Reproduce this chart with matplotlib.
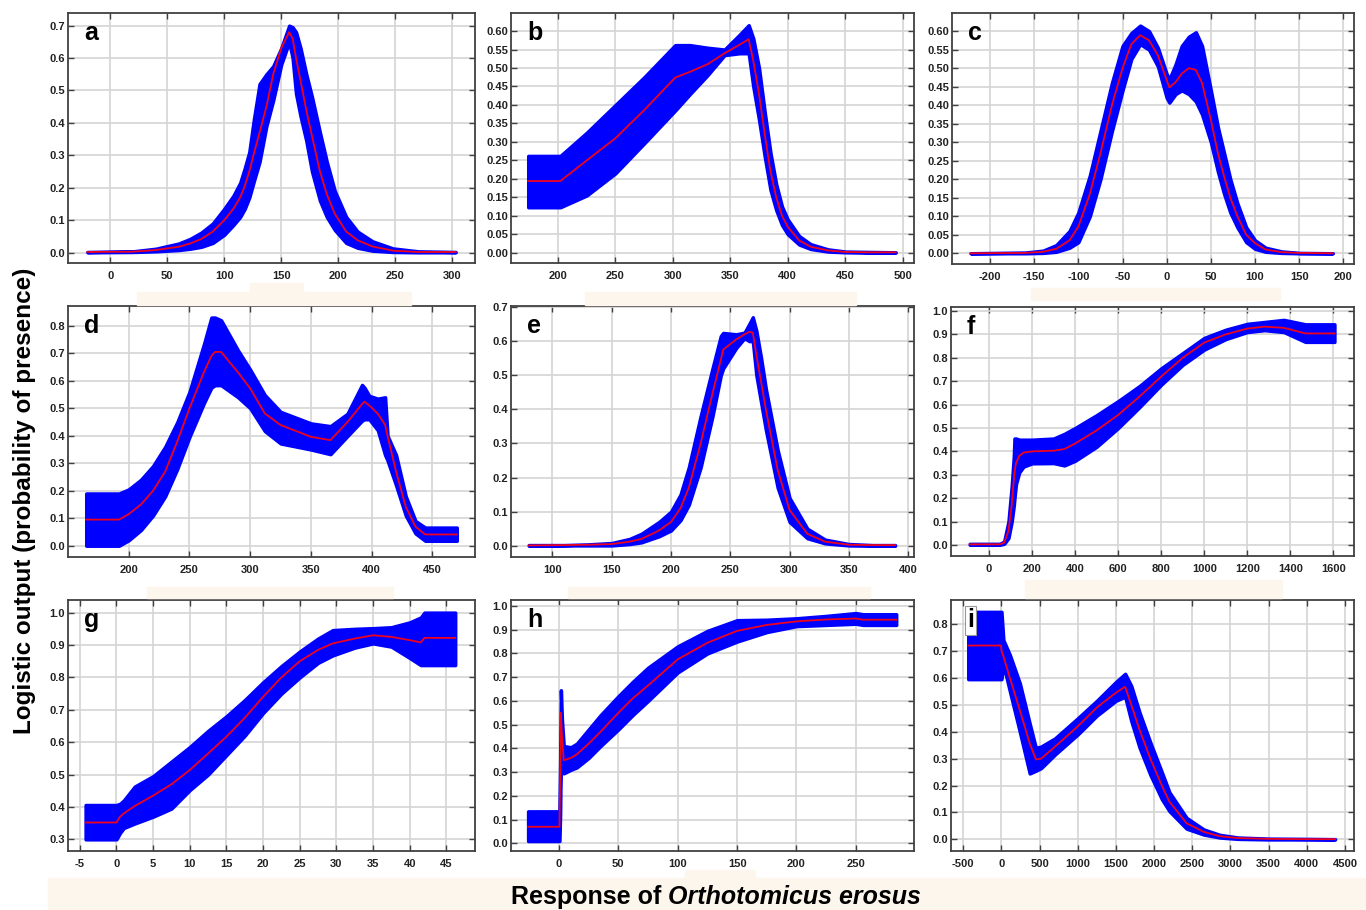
"""Response curves (logistic output) for Orthotomicus erosus, panels a-i."""

import matplotlib
matplotlib.use("Agg")
import matplotlib.pyplot as plt
from matplotlib.patches import Rectangle
from matplotlib.ticker import FormatStrFormatter

plt.rcParams['font.family'] = ['Liberation Sans', 'DejaVu Sans']
plt.rcParams['axes.unicode_minus'] = False

W, H = 1366, 910

# ---- data ----
a_x = [-20, 20, 40, 60, 70, 80, 90, 100, 108, 114, 118, 122, 126, 131, 137, 143, 150, 157, 160, 163, 167, 172, 177, 184, 190, 197, 207, 217, 230, 248, 270, 303]
a_mean = [.002, .003, .008, .018, .028, .042, .065, .10, .135, .17, .205, .25, .305, .37, .45, .55, .63, .68, .66, .60, .53, .44, .36, .25, .18, .12, .065, .038, .019, .006, .002, .002]
a_hi = [.002, .004, .012, .028, .042, .062, .09, .135, .175, .215, .26, .31, .41, .52, .55, .575, .63, .70, .695, .68, .63, .55, .48, .37, .28, .19, .11, .065, .035, .013, .004, .002]
a_lo = [.001, .002, .004, .008, .012, .018, .03, .055, .085, .11, .135, .17, .22, .28, .39, .47, .58, .65, .60, .49, .42, .345, .25, .16, .11, .07, .03, .015, .006, .002, .001, .001]

b_x = [174, 202, 225, 250, 275, 302, 315, 330, 345, 358, 366, 370, 375, 380, 385, 390, 395, 400, 410, 420, 435, 450, 470, 494]
b_mean = [0.194, 0.194, 0.25, 0.31, 0.386, 0.474, 0.49, 0.51, 0.54, 0.563, 0.578, 0.52, 0.43, 0.32, 0.22, 0.15, 0.10, 0.07, 0.033, 0.016, 0.006, 0.002, 0.001, 0.001]
b_hi = [0.262, 0.262, 0.325, 0.40, 0.475, 0.562, 0.562, 0.555, 0.55, 0.59, 0.616, 0.58, 0.50, 0.38, 0.27, 0.185, 0.125, 0.09, 0.045, 0.023, 0.009, 0.003, 0.002, 0.001]
b_lo = [0.123, 0.123, 0.155, 0.215, 0.296, 0.385, 0.43, 0.48, 0.535, 0.54, 0.54, 0.45, 0.36, 0.26, 0.17, 0.115, 0.075, 0.05, 0.022, 0.01, 0.003, 0.001, 0.0, 0.0]

c_x = [-222, -160, -140, -125, -110, -100, -87, -75, -62, -50, -40, -30, -20, -10, 0, 3, 10, 17, 25, 33, 40, 50, 58, 65, 72, 80, 90, 100, 112, 130, 150, 188]
c_mean = [0, 0.001, 0.004, 0.012, 0.035, 0.072, 0.16, 0.27, 0.40, 0.50, 0.565, 0.589, 0.575, 0.535, 0.468, 0.448, 0.462, 0.485, 0.50, 0.495, 0.46, 0.36, 0.27, 0.207, 0.15, 0.10, 0.05, 0.027, 0.01, 0.003, 0.001, 0]
c_hi = [0, 0.002, 0.007, 0.022, 0.06, 0.11, 0.21, 0.33, 0.46, 0.56, 0.595, 0.615, 0.60, 0.555, 0.484, 0.47, 0.51, 0.56, 0.585, 0.597, 0.56, 0.44, 0.34, 0.27, 0.20, 0.135, 0.07, 0.035, 0.015, 0.005, 0.001, 0]
c_lo = [0, 0.0, 0.001, 0.004, 0.015, 0.03, 0.10, 0.20, 0.33, 0.44, 0.525, 0.565, 0.55, 0.505, 0.42, 0.407, 0.43, 0.44, 0.43, 0.41, 0.375, 0.30, 0.22, 0.16, 0.11, 0.07, 0.03, 0.012, 0.004, 0.001, 0, 0]

d_x = [165, 192, 200, 210, 220, 230, 240, 250, 262, 268, 271, 276, 290, 300, 312, 325, 350, 366, 380, 392, 394, 398, 405, 411, 413, 420, 428, 436, 444, 470]
d_mean = [0.095, 0.095, 0.115, 0.15, 0.20, 0.27, 0.38, 0.50, 0.633, 0.69, 0.705, 0.705, 0.63, 0.572, 0.481, 0.439, 0.396, 0.384, 0.45, 0.515, 0.524, 0.51, 0.48, 0.44, 0.40, 0.27, 0.142, 0.069, 0.041, 0.041]
d_hi = [0.19, 0.19, 0.205, 0.24, 0.29, 0.36, 0.45, 0.56, 0.735, 0.83, 0.83, 0.82, 0.71, 0.64, 0.548, 0.487, 0.445, 0.435, 0.48, 0.585, 0.575, 0.545, 0.535, 0.54, 0.40, 0.33, 0.18, 0.09, 0.066, 0.066]
d_lo = [0.0, 0.0, 0.02, 0.057, 0.11, 0.18, 0.28, 0.396, 0.52, 0.575, 0.584, 0.584, 0.54, 0.50, 0.417, 0.372, 0.35, 0.333, 0.399, 0.455, 0.46, 0.46, 0.42, 0.33, 0.31, 0.22, 0.11, 0.045, 0.018, 0.018]

e_x = [80, 110, 130, 150, 165, 175, 190, 200, 208, 215, 225, 235, 242, 244, 255, 262, 266, 269, 272, 276, 280, 290, 300, 315, 330, 350, 370, 389]
e_mean = [0.001, 0.002, 0.003, 0.005, 0.012, 0.02, 0.045, 0.07, 0.11, 0.17, 0.30, 0.447, 0.545, 0.575, 0.605, 0.62, 0.627, 0.625, 0.56, 0.48, 0.40, 0.222, 0.105, 0.035, 0.012, 0.003, 0.002, 0.002]
e_hi = [0.002, 0.002, 0.004, 0.008, 0.02, 0.035, 0.07, 0.10, 0.15, 0.23, 0.38, 0.52, 0.615, 0.624, 0.62, 0.625, 0.65, 0.67, 0.63, 0.55, 0.46, 0.28, 0.14, 0.05, 0.018, 0.005, 0.002, 0.002]
e_lo = [0.0, 0.001, 0.001, 0.001, 0.005, 0.01, 0.028, 0.045, 0.075, 0.12, 0.23, 0.38, 0.50, 0.52, 0.58, 0.609, 0.60, 0.60, 0.50, 0.42, 0.34, 0.17, 0.07, 0.022, 0.007, 0.001, 0.0, 0.0]

f_x = [-90, 50, 70, 90, 105, 115, 118, 125, 140, 160, 200, 300, 350, 400, 500, 600, 700, 800, 900, 1000, 1100, 1200, 1280, 1370, 1470, 1605]
f_mean = [0.003, 0.003, 0.01, 0.06, 0.17, 0.28, 0.31, 0.35, 0.38, 0.395, 0.40, 0.403, 0.41, 0.434, 0.49, 0.556, 0.635, 0.72, 0.80, 0.865, 0.90, 0.925, 0.933, 0.928, 0.904, 0.904]
f_hi = [0.005, 0.005, 0.015, 0.10, 0.25, 0.38, 0.455, 0.455, 0.45, 0.45, 0.45, 0.455, 0.475, 0.50, 0.555, 0.615, 0.68, 0.755, 0.82, 0.885, 0.92, 0.945, 0.953, 0.962, 0.943, 0.943]
f_lo = [0.001, 0.001, 0.005, 0.03, 0.10, 0.17, 0.20, 0.26, 0.31, 0.335, 0.349, 0.35, 0.34, 0.36, 0.42, 0.50, 0.59, 0.685, 0.77, 0.835, 0.88, 0.91, 0.918, 0.91, 0.868, 0.868]

g_x = [-4.2, 0, 0.5, 1, 2.5, 5, 7.5, 10, 12.5, 15, 17.5, 20, 22.5, 25, 27.5, 29.5, 32.5, 35, 37.5, 40, 41.5, 42, 46.2]
g_mean = [0.352, 0.352, 0.37, 0.38, 0.403, 0.435, 0.47, 0.514, 0.565, 0.617, 0.675, 0.74, 0.80, 0.85, 0.885, 0.905, 0.92, 0.93, 0.925, 0.915, 0.908, 0.922, 0.922]
g_hi = [0.406, 0.406, 0.41, 0.42, 0.463, 0.495, 0.54, 0.585, 0.635, 0.68, 0.73, 0.785, 0.835, 0.88, 0.92, 0.946, 0.95, 0.952, 0.955, 0.97, 0.985, 1.0, 1.0]
g_lo = [0.30, 0.30, 0.32, 0.335, 0.349, 0.37, 0.395, 0.452, 0.50, 0.56, 0.62, 0.69, 0.75, 0.80, 0.845, 0.868, 0.892, 0.905, 0.895, 0.86, 0.838, 0.838, 0.838]

h_x = [-26, 0, 0.4, 1.0, 1.6, 2.5, 4, 10, 15, 25, 35, 50, 62, 75, 100, 125, 150, 175, 200, 225, 250, 256, 284]
h_mean = [0.07, 0.07, 0.07, 0.30, 0.55, 0.45, 0.35, 0.36, 0.375, 0.42, 0.47, 0.55, 0.61, 0.665, 0.775, 0.845, 0.895, 0.92, 0.935, 0.943, 0.947, 0.942, 0.942]
h_hi = [0.135, 0.135, 0.135, 0.34, 0.645, 0.52, 0.41, 0.405, 0.42, 0.48, 0.54, 0.62, 0.68, 0.74, 0.83, 0.895, 0.94, 0.942, 0.948, 0.958, 0.97, 0.965, 0.965]
h_lo = [0.01, 0.01, 0.01, 0.13, 0.42, 0.34, 0.295, 0.31, 0.32, 0.36, 0.41, 0.48, 0.54, 0.60, 0.72, 0.80, 0.85, 0.89, 0.915, 0.92, 0.925, 0.92, 0.92]

i_x = [-435, -5, 0, 25, 110, 240, 370, 450, 520, 700, 1000, 1250, 1500, 1620, 1700, 1810, 1950, 2100, 2200, 2425, 2650, 2860, 3100, 3500, 4000, 4370]
i_mean = [0.72, 0.72, 0.70, 0.68, 0.60, 0.48, 0.357, 0.297, 0.30, 0.344, 0.42, 0.49, 0.545, 0.567, 0.50, 0.406, 0.30, 0.20, 0.14, 0.06, 0.028, 0.012, 0.005, 0.002, 0.001, 0.001]
i_hi = [0.845, 0.845, 0.845, 0.74, 0.685, 0.58, 0.43, 0.34, 0.345, 0.375, 0.45, 0.515, 0.585, 0.615, 0.57, 0.47, 0.36, 0.25, 0.175, 0.08, 0.037, 0.017, 0.007, 0.003, 0.002, 0.001]
i_lo = [0.595, 0.595, 0.595, 0.65, 0.55, 0.40, 0.245, 0.255, 0.265, 0.315, 0.39, 0.46, 0.515, 0.53, 0.44, 0.34, 0.24, 0.15, 0.105, 0.04, 0.018, 0.007, 0.002, 0.0, 0.0, 0.0]

# panel: (label, x, mean, lo, hi, xlim, ylim, xticks, yticks, yfmt, box in px: left, top, right, bottom)
panels = [
    ('a', a_x, a_mean, a_lo, a_hi, (-37, 320), (-0.032, 0.739), range(0, 301, 50), [i / 10 for i in range(8)], '%.1f', (68, 13, 475, 263)),
    ('b', b_x, b_mean, b_lo, b_hi, (159, 510), (-0.028, 0.649), range(200, 501, 50), [i / 20 for i in range(13)], '%.2f', (511, 13, 914, 263)),
    ('c', c_x, c_mean, c_lo, c_hi, (-243, 212), (-0.029, 0.649), range(-200, 201, 50), [i / 20 for i in range(13)], '%.2f', (952, 13, 1354, 264)),
    ('d', d_x, d_mean, d_lo, d_hi, (150, 485), (-0.041, 0.872), range(200, 451, 50), [i / 10 for i in range(9)], '%.1f', (68, 306, 475, 557)),
    ('e', e_x, e_mean, e_lo, e_hi, (65, 405), (-0.033, 0.703), range(100, 401, 50), [i / 10 for i in range(8)], '%.1f', (511, 306, 914, 557)),
    ('f', f_x, f_mean, f_lo, f_hi, (-177, 1696), (-0.047, 1.017), range(0, 1601, 200), [i / 10 for i in range(11)], '%.1f', (951, 307, 1354, 556)),
    ('g', g_x, g_mean, g_lo, g_hi, (-6.6, 48.9), (0.264, 1.039), range(-5, 46, 5), [i / 10 for i in range(3, 11)], '%.1f', (68, 600, 475, 851)),
    ('h', h_x, h_mean, h_lo, h_hi, (-40.4, 299), (-0.032, 1.025), range(0, 251, 50), [i / 10 for i in range(11)], '%.1f', (511, 600, 914, 851)),
    ('i', i_x, i_mean, i_lo, i_hi, (-661, 4618), (-0.043, 0.889), range(-500, 4501, 500), [i / 10 for i in range(9)], '%.1f', (951, 600, 1354, 851)),
]

fig = plt.figure(figsize=(W / 100, H / 100), dpi=100)

# faint cream blocks that sit behind the labels in the original figure
cream = '#fdf6ec'
for l, t, r, b in [(48, 878, 1366, 910), (685, 870, 755, 878), (250, 283, 303, 292), (137, 292, 411, 305),
                   (585, 292, 856, 305), (1031, 288, 1280, 300), (147, 587, 393, 598), (568, 587, 870, 598),
                   (1025, 580, 1282, 598)]:
    fig.patches.append(Rectangle((l / W, 1 - b / H), (r - l) / W, (b - t) / H,
                                 transform=fig.transFigure, color=cream, zorder=0))

for label, x, mean, lo, hi, xlim, ylim, xt, yt, yfmt, (l, t, r, b) in panels:
    ax = fig.add_axes([l / W, 1 - b / H, (r - l) / W, (b - t) / H])
    ax.set_axisbelow(True)
    ax.fill_between(x, lo, hi, facecolor='#0000ff', edgecolor='#0000ff', linewidth=2.5,
                    joinstyle='round', zorder=2)
    ax.plot(x, mean, color='#f0001c', linewidth=1.3, zorder=3)
    ax.set_xlim(*xlim)
    ax.set_ylim(*ylim)
    ax.set_xticks(list(xt))
    ax.set_yticks(yt)
    ax.yaxis.set_major_formatter(FormatStrFormatter(yfmt))
    ax.grid(True, color='#d4d4d4', linewidth=1.2)
    ax.tick_params(direction='in', length=4, width=1, color='#404040',
                   top=True, right=True, labelsize=8, pad=2)
    ax.tick_params(axis='x', pad=6)
    for lab in ax.get_xticklabels() + ax.get_yticklabels():
        lab.set_fontweight('bold')
        lab.set_color('#222222')
    for sp in ax.spines.values():
        sp.set_color('#404040')
        sp.set_linewidth(1.3)
    box = None
    if label == 'i':
        box = dict(boxstyle='square,pad=0.1', facecolor='white', edgecolor='#999999', linewidth=0.8)
    ax.text(0.04, 0.92, label, transform=ax.transAxes, fontsize=18, fontweight='bold',
            ha='left', va='center', zorder=5, bbox=box)

fig.text(25 / W, 1 - 501 / H, 'Logistic output (probability of presence)', rotation=90,
         fontsize=17.5, fontweight='bold', ha='center', va='center')

# x label: plain bold part, then the species name in bold italic right after it
t1 = fig.text(511 / W, 1 - 909 / H, 'Response of ', fontsize=18, fontweight='bold',
              ha='left', va='bottom')
fig.canvas.draw()
x2 = t1.get_window_extent().x1 / fig.bbox.width
fig.text(x2, 1 - 909 / H, 'Orthotomicus erosus', fontsize=18, fontweight='bold',
         style='italic', ha='left', va='bottom')

plt.savefig('out.png', dpi=100)
